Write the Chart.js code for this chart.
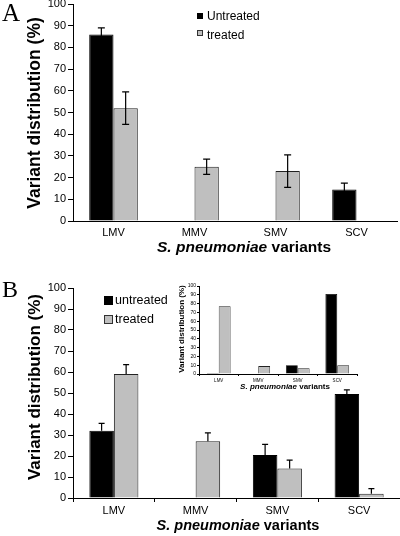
<!DOCTYPE html>
<html>
<head>
<meta charset="utf-8">
<script src="https://cdn.jsdelivr.net/npm/chart.js@4.4.1/dist/chart.umd.min.js"></script>
<style>
  html, body { margin:0; padding:0; background:#fff; }
  body { width:400px; height:536px; position:relative; overflow:hidden; font-family:"Liberation Sans", Arial, sans-serif; }
  canvas { position:absolute; }
  .panel { position:absolute; font-family:"Liberation Serif","Times New Roman",serif; line-height:1; color:#000; }
  .leg { position:absolute; white-space:nowrap; color:#000; font-size:12px; line-height:14px; }
  .sw { position:absolute; box-sizing:border-box; }
</style>
</head>
<body>
<canvas id="chartA" width="400" height="268" style="left:0;top:0"></canvas>
<canvas id="chartB" width="400" height="268" style="left:0;top:268px"></canvas>
<canvas id="chartInset" width="205" height="120" style="left:160px;top:275px"></canvas>

<div class="panel" style="left:2px;top:0;font-size:25px">A</div>
<div class="panel" style="left:2px;top:277px;font-size:24px">B</div>

<!-- legend A -->
<div class="sw" style="left:197px;top:13px;width:6px;height:6px;background:#000"></div>
<div class="leg" style="left:207px;top:9px">Untreated</div>
<div class="sw" style="left:197px;top:30px;width:6px;height:6px;background:#bfbfbf;border:1px solid #333"></div>
<div class="leg" style="left:207px;top:28px">treated</div>

<!-- legend B -->
<div class="sw" style="left:104px;top:296px;width:9px;height:9px;background:#000"></div>
<div class="leg" style="left:115px;top:293px;font-size:12.5px">untreated</div>
<div class="sw" style="left:104px;top:315px;width:9px;height:9px;background:#bfbfbf;border:1px solid #333"></div>
<div class="leg" style="left:115px;top:312px;font-size:12.5px">treated</div>

<script>
  const FONT = '"Liberation Sans", Arial, sans-serif';
  const BLACK = '#000000';
  const GREY = '#bfbfbf';

  const CATS = ["LMV", "MMV", "SMV", "SCV"];
  const Y_TITLE = "Variant distribution (%)";
  const X_TITLE_ITALIC = "S. pneumoniae";
  const X_TITLE_REST = " variants";

  // panel A
  const A_UNTREATED     = [86, 0, 0, 14.5];
  const A_UNTREATED_ERR = [3, 0, 0, 3];
  const A_TREATED       = [52, 25, 23, 0];
  const A_TREATED_ERR   = [7.5, 3.5, 7.5, 0];

  // panel B
  const B_UNTREATED     = [32, 0, 20.5, 49.5];
  const B_UNTREATED_ERR = [3.5, 0, 5, 2];
  const B_TREATED       = [59, 27, 14, 2];
  const B_TREATED_ERR   = [4.5, 4, 4, 2.5];

  // inset in B
  const INSET_UNTREATED = [1, 0, 10, 91];
  const INSET_TREATED   = [77, 9, 6.5, 10];

  /* ---------- error bars ---------- */
  const errorBars = {
    id: 'errorBars',
    afterDatasetsDraw(chart, args, o) {
      if (!o.errors) return;
      const ctx = chart.ctx, ys = chart.scales.y;
      ctx.save();
      ctx.strokeStyle = '#000';
      ctx.lineWidth = o.lineWidth;
      o.errors.forEach((errs, di) => {
        const meta = chart.getDatasetMeta(di);
        const vals = chart.data.datasets[di].data;
        meta.data.forEach((bar, i) => {
          const e = errs[i];
          if (!e) return;
          const top = ys.getPixelForValue(vals[i] + e);
          const bot = o.upperOnly ? bar.y : ys.getPixelForValue(vals[i] - e);
          ctx.beginPath();
          ctx.moveTo(bar.x, top); ctx.lineTo(bar.x, bot);
          ctx.moveTo(bar.x - o.cap, top); ctx.lineTo(bar.x + o.cap, top);
          if (!o.upperOnly) { ctx.moveTo(bar.x - o.cap, bot); ctx.lineTo(bar.x + o.cap, bot); }
          ctx.stroke();
        });
      });
      ctx.restore();
    }
  };

  /* ---------- axis titles (mixed italic) ---------- */
  const axisTitles = {
    id: 'axisTitles',
    afterDraw(chart, args, o) {
      const ctx = chart.ctx;
      ctx.save();
      ctx.fillStyle = '#000';
      ctx.translate(o.yX, o.yY);
      ctx.rotate(-Math.PI / 2);
      ctx.font = `bold ${o.ySize}px ${FONT}`;
      ctx.textAlign = 'center';
      ctx.textBaseline = 'middle';
      ctx.fillText(Y_TITLE, 0, 0);
      ctx.restore();

      ctx.save();
      ctx.fillStyle = '#000';
      const f1 = `italic bold ${o.xSize}px ${FONT}`;
      const f2 = `bold ${o.xSize}px ${FONT}`;
      ctx.font = f1; const w1 = ctx.measureText(X_TITLE_ITALIC).width;
      ctx.font = f2; const w2 = ctx.measureText(X_TITLE_REST).width;
      const x0 = o.xX - (w1 + w2) / 2;
      ctx.textAlign = 'left';
      ctx.textBaseline = 'middle';
      ctx.font = f1; ctx.fillText(X_TITLE_ITALIC, x0, o.xY);
      ctx.font = f2; ctx.fillText(X_TITLE_REST, x0 + w1, o.xY);
      ctx.restore();
    }
  };

  function makeChart(id, o) {
    return new Chart(document.getElementById(id), {
      type: 'bar',
      data: {
        labels: CATS,
        datasets: [
          { label: 'untreated', data: o.untreated, backgroundColor: BLACK, borderColor: BLACK, borderWidth: o.barBorder },
          { label: 'treated', data: o.treated, backgroundColor: GREY, borderColor: '#222', borderWidth: o.barBorder }
        ]
      },
      options: {
        responsive: false,
        animation: false,
        devicePixelRatio: 1,
        layout: { padding: o.pad },
        datasets: { bar: { categoryPercentage: 0.6, barPercentage: 1 } },
        plugins: {
          legend: { display: false },
          tooltip: { enabled: false },
          errorBars: o.errorBars,
          axisTitles: o.titles
        },
        scales: {
          x: {
            grid: { display: o.xTicks, drawOnChartArea: false, drawTicks: o.xTicks, tickLength: o.xTickLen, color: '#000', offset: true },
            border: { display: true, color: '#000', width: 1 },
            ticks: { font: { family: FONT, size: o.xFont }, color: '#000', padding: o.xPad, maxRotation: 0 },
            afterFit(s) { s.height = o.xH; s.paddingLeft = 0; s.paddingRight = 0; }
          },
          y: {
            min: 0, max: 100,
            ticks: { stepSize: 10, font: { family: FONT, size: o.yFont }, color: '#000', padding: o.yPad, autoSkip: false },
            grid: { drawOnChartArea: false, tickLength: o.yTickLen, color: '#000' },
            border: { display: true, color: '#000', width: 1 },
            afterFit(s) { s.width = o.yW; s.paddingTop = 0; s.paddingBottom = 0; }
          }
        }
      },
      plugins: [errorBars, axisTitles]
    });
  }

  makeChart('chartA', {
    untreated: A_UNTREATED, treated: A_TREATED, barBorder: 1,
    pad: { top: 4, right: 3, left: 0, bottom: 0 },
    xTicks: false, xTickLen: 0, xFont: 11, xPad: 5, xH: 47,
    yFont: 11, yPad: 2, yTickLen: 5, yW: 73,
    errorBars: { errors: [A_UNTREATED_ERR, A_TREATED_ERR], upperOnly: false, cap: 3.5, lineWidth: 1.2 },
    titles: { yX: 35, yY: 113, ySize: 17.5, xX: 244, xY: 248, xSize: 15.5 }
  });

  makeChart('chartB', {
    untreated: B_UNTREATED, treated: B_TREATED, barBorder: 1,
    pad: { top: 20, right: 0, left: 0, bottom: 0 },
    xTicks: true, xTickLen: 4, xFont: 11, xPad: 2, xH: 38,
    yFont: 11, yPad: 2, yTickLen: 5, yW: 73,
    errorBars: { errors: [B_UNTREATED_ERR, B_TREATED_ERR], upperOnly: true, cap: 3, lineWidth: 1.2 },
    titles: { yX: 35, yY: 119, ySize: 17, xX: 238, xY: 258, xSize: 14.5 }
  });

  makeChart('chartInset', {
    untreated: INSET_UNTREATED, treated: INSET_TREATED, barBorder: 0.8,
    pad: { top: 11, right: 8, left: 0, bottom: 0 },
    xTicks: true, xTickLen: 2, xFont: 4.5, xPad: 2, xH: 21,
    yFont: 5, yPad: 1, yTickLen: 2, yW: 39,
    errorBars: { errors: null },
    titles: { yX: 22, yY: 54, ySize: 8, xX: 125, xY: 112, xSize: 8 }
  });
</script>
</body>
</html>
